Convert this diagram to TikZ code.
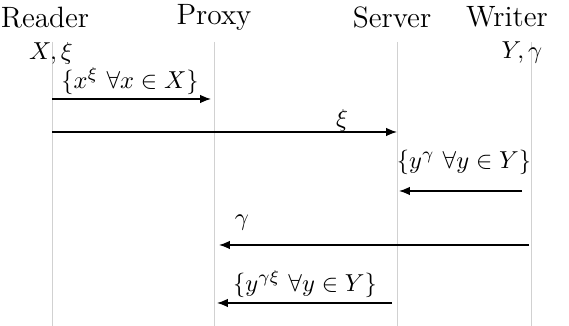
\documentclass[tikz,border=0pt]{standalone}
\usetikzlibrary{arrows.meta}
\begin{document}
\begin{tikzpicture}[x=0.408pt,y=-0.408pt,
  life/.style={draw=black!18,line width=0.4pt},
  msg/.style={-{Latex[length=4.4pt,width=3.4pt]},line width=0.5pt},
  title/.style={font=\fontsize{12}{14}\selectfont,inner sep=0pt},
  lbl/.style={inner sep=0pt}]
\useasboundingbox (0,0) rectangle (569,326);
% titles
\node[title] (tR) at (45,18) {Reader};
\node[title] (tP) at (214,17) {Proxy};
\node[title] (tS) at (392,17) {Server};
\node[title] (tW) at (507,17) {Writer};
% lifelines
\coordinate (R0) at (52,42);  \coordinate (R1) at (52,326);
\coordinate (P0) at (214,42); \coordinate (P1) at (214,326);
\coordinate (S0) at (397,42); \coordinate (S1) at (397,326);
\coordinate (W0) at (531,42); \coordinate (W1) at (531,326);
\draw[life] (R0) -- (R1);
\draw[life] (P0) -- (P1);
\draw[life] (S0) -- (S1);
\draw[life] (W0) -- (W1);
% initial knowledge
\node[lbl] (kR) at (51,53) {$X,\xi$};
\node[lbl] (kW) at (522,53) {$Y,\gamma$};
% messages
\coordinate (a1s) at (52,99);  \coordinate (a1e) at (211,99);
\draw[msg] (a1s) -- (a1e);
\node[lbl] (l1) at (130,81) {$\{x^{\xi}\ \forall x\in X\}$};
\coordinate (a2s) at (52,132); \coordinate (a2e) at (397,132);
\draw[msg] (a2s) -- (a2e);
\node[lbl] (l2) at (342,120) {$\xi$};
\coordinate (a3s) at (522,191); \coordinate (a3e) at (399,191);
\draw[msg] (a3s) -- (a3e);
\node[lbl] (l3) at (464,162) {$\{y^{\gamma}\ \forall y\in Y\}$};
\coordinate (a4s) at (529,245); \coordinate (a4e) at (219,245);
\draw[msg] (a4s) -- (a4e);
\node[lbl] (l4) at (242,223) {$\gamma$};
\coordinate (a5s) at (392,303); \coordinate (a5e) at (217,303);
\draw[msg] (a5s) -- (a5e);
\node[lbl] (l5) at (305,284) {$\{y^{\gamma\xi}\ \forall y\in Y\}$};
\end{tikzpicture}
\end{document}
